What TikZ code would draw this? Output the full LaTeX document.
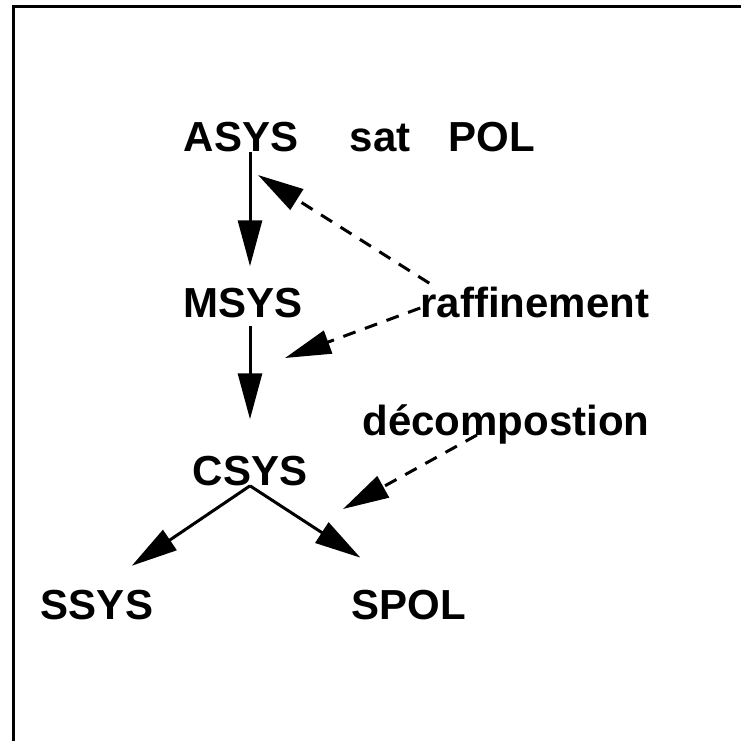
\documentclass[tikz,border=0pt]{standalone}
\usepackage{fontspec}
\setmainfont{Liberation Sans}
\usetikzlibrary{arrows.meta}
\tikzset{
  etiq/.style={font=\fontsize{21}{25}\selectfont\bfseries,inner sep=0pt,anchor=base},
  fleche/.style={line width=1.5pt,-{Triangle[length=23pt,width=12pt]}},
  pointille/.style={fleche,dash pattern=on 6.5pt off 5pt},
}
\begin{document}
\begin{tikzpicture}[x=0.5pt,y=-0.5pt]
\useasboundingbox (0,0) rectangle (741,741);
    %Cadre
    \draw[line width=1.5pt] (13.5,741) -- (13.5,6.5) -- (741,6.5);

    %Etiquettes
    \node[etiq] (asys) at (241,151) {ASYS};
    \node[etiq] (sat)  at (380,151) {sat};
    \node[etiq] (pol)  at (492,151) {POL};
    \node[etiq] (msys) at (243,317) {MSYS};
    \node[etiq] (raf)  at (535,317) {raffinement};
    \node[etiq] (dec)  at (506,435) {décompostion};
    \node[etiq] (csys) at (250,485) {CSYS};
    \node[etiq] (ssys) at (97,619) {SSYS};
    \node[etiq] (spol) at (409,619) {SPOL};

    %Points vises par les pointilles
    \coordinate (cibleA) at (258,175);
    \coordinate (cibleM) at (285,358);
    \coordinate (cibleC) at (343,509);

    %Raffinement vertical
    \draw[fleche,shorten >=10.5pt] (asys.south -| csys) -- (msys.north -| csys);
    \draw[fleche,shorten <=4pt,shorten >=18pt] (msys.south -| csys) -- (csys.north);

    %Decomposition
    \draw[fleche,shorten >=21pt] (csys.south) -- (ssys.north);
    \draw[fleche,shorten >=29pt] (csys.south) -- (spol.north);

    %Pointilles
    \draw[pointille] ([xshift=4.5pt,yshift=1.5pt]raf.north west) -- (cibleA);
    \draw[pointille] ([yshift=-3pt]raf.west) -- (cibleM);
    \draw[pointille] ([xshift=-14.5pt]dec.base) -- (cibleC);
\end{tikzpicture}
\end{document}
